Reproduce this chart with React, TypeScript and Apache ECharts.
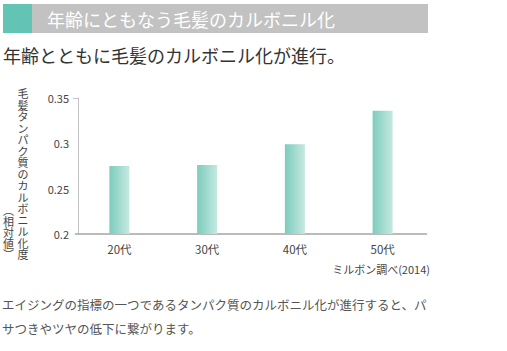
import React, { useEffect, useRef } from "react";
import * as echarts from "echarts";

const categories = ["20代", "30代", "40代", "50代"];
const values = [0.275, 0.276, 0.299, 0.336];
const yTicks = [0.2, 0.25, 0.3, 0.35];
const title = "年齢にともなう毛髪のカルボニル化";
const subtitle = "年齢とともに毛髪のカルボニル化が進行。";
const yName = "毛髪タンパク質のカルボニル化度";
const yName2 = "︵相対値︶";
const source = "ミルボン調べ(2014)";
const note1 = "エイジングの指標の一つであるタンパク質のカルボニル化が進行すると、パ";
const note2 = "サつきやツヤの低下に繋がります。";

const FONT = '"Noto Sans CJK JP", "Noto Sans", sans-serif';

export default function App() {
  const ref = useRef<HTMLDivElement>(null);
  useEffect(() => {
    const chart = echarts.init(ref.current!, null, { renderer: "svg" });
    chart.setOption({
      animation: false,
      textStyle: { fontFamily: FONT },
      grid: { left: 75.5, right: 80.5, top: 98, bottom: 117 },
      xAxis: {
        type: "category",
        data: categories,
        axisLine: { lineStyle: { color: "#a5a5a5", width: 1.5 } },
        axisTick: { show: false },
        axisLabel: { color: "#444", fontSize: 11.5, margin: 9, fontFamily: FONT },
      },
      yAxis: {
        type: "value",
        min: 0.2,
        max: 0.35,
        interval: 0.05,
        offset: -2.5,
        splitLine: { show: false },
        axisLine: { show: true, lineStyle: { color: "#c4c4c4", width: 1 } },
        axisTick: { show: false },
        axisLabel: {
          color: "#444",
          fontSize: 11,
          margin: 9,
          fontFamily: FONT,
          formatter: (v: number) => {
            const t = yTicks.find((x) => Math.abs(x - v) < 1e-9);
            return t === undefined ? "" : String(t);
          },
        },
      },
      series: [
        {
          type: "bar",
          data: values,
          barWidth: 20,
          itemStyle: {
            color: new echarts.graphic.LinearGradient(0, 0, 1, 0, [
              { offset: 0, color: "#7dccbd" },
              { offset: 1, color: "#c4e9e1" },
            ]),
          },
        },
      ],
      graphic: [
        { type: "rect", shape: { x: 3, y: 4, width: 29, height: 29 }, style: { fill: "#63c3b4" } },
        { type: "rect", shape: { x: 32, y: 4, width: 396, height: 29 }, style: { fill: "#c1c2c1" } },
        {
          type: "text",
          x: 47,
          y: 18.5,
          style: { text: title, fill: "#ffffff", fontSize: 18, fontFamily: FONT, verticalAlign: "middle" },
        },
        {
          type: "text",
          x: 3,
          y: 55,
          style: { text: subtitle, fill: "#333", fontSize: 18, fontFamily: FONT, verticalAlign: "middle" },
        },
        {
          type: "text",
          x: 23,
          y: 87.5,
          style: {
            text: yName.split("").join("\n"),
            fill: "#444",
            fontSize: 11,
            lineHeight: 11.5,
            fontFamily: FONT,
            align: "center",
            verticalAlign: "top",
          },
        },
        {
          type: "text",
          x: 8.5,
          y: 204,
          style: {
            text: yName2.split("").join("\n"),
            fill: "#444",
            fontSize: 11,
            lineHeight: 11,
            fontFamily: FONT,
            align: "center",
            verticalAlign: "top",
          },
        },
        { type: "line", shape: { x1: 73, y1: 98.5, x2: 78, y2: 98.5 }, style: { stroke: "#c4c4c4", lineWidth: 1 } },
        {
          type: "text",
          x: 430,
          y: 269,
          style: { text: source, fill: "#444", fontSize: 11, fontFamily: FONT, align: "right", verticalAlign: "middle" },
        },
        {
          type: "text",
          x: 2,
          y: 304,
          style: { text: note1, fill: "#555", fontSize: 12.5, fontFamily: FONT, verticalAlign: "middle" },
        },
        {
          type: "text",
          x: 2,
          y: 328,
          style: { text: note2, fill: "#555", fontSize: 12.5, fontFamily: FONT, verticalAlign: "middle" },
        },
      ],
    });
    return () => chart.dispose();
  }, []);
  return <div ref={ref} style={{ width: 507, height: 351, position: "absolute", left: 0, top: 0, background: "#fff" }} />;
}
